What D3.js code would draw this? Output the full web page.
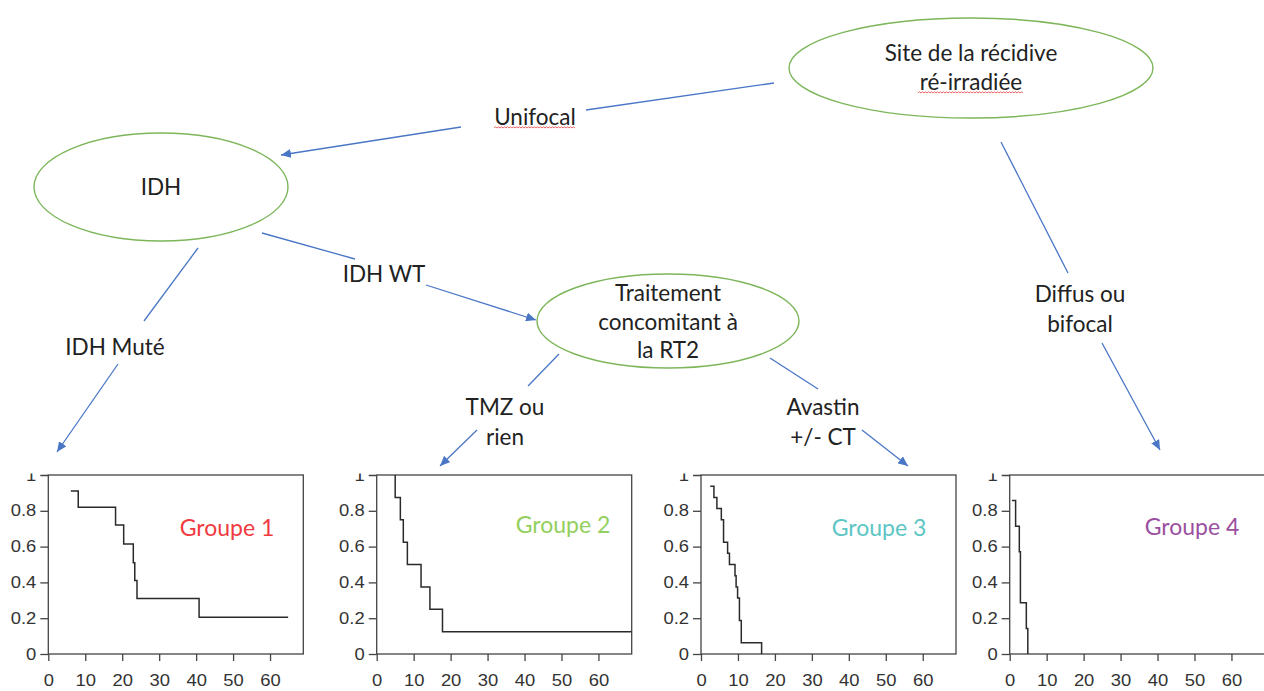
<!DOCTYPE html>
<html>
<head>
<meta charset="utf-8">
<script src="https://cdn.jsdelivr.net/npm/d3@7"></script>
<style>
  body { margin: 0; background: #fff; }
  svg { display: block; }
</style>
</head>
<body>
<script>
//Constants for the frame
const FRAME_WIDTH = 1264;
const FRAME_HEIGHT = 691;

//Data : survival curves (time in months, survival)
const GROUPS = ["Groupe 1", "Groupe 2", "Groupe 3", "Groupe 4"];
const G1_TIME = [6.1, 8.1, 18.2, 20.4, 23.0, 23.4, 24.0, 40.8, 64.9];
const G1_SURV = [0.91, 0.82, 0.72, 0.615, 0.51, 0.41, 0.31, 0.205, 0.205];
const G2_TIME = [5.0, 5.0, 6.4, 7.2, 8.3, 12.0, 14.4, 17.8, 69];
const G2_SURV = [1, 0.875, 0.75, 0.625, 0.5, 0.375, 0.25, 0.125, 0.125];
const G3_TIME = [2.5, 3.5, 4.3, 5.5, 6.1, 7.2, 7.7, 9.2, 9.5, 9.9, 10.4, 10.9, 16.4];
const G3_SURV = [0.9375, 0.875, 0.8125, 0.75, 0.625, 0.5625, 0.5, 0.4375, 0.375, 0.3125, 0.1875, 0.0625, 0];
const G4_TIME = [0.6, 1.6, 2.6, 2.9, 4.5, 4.9];
const G4_SURV = [0.857, 0.714, 0.571, 0.286, 0.143, 0];
const X_TICKS = [0, 10, 20, 30, 40, 50, 60];
const Y_TICKS = [0, 0.2, 0.4, 0.6, 0.8, 1];

const SERIES = [
  {name: GROUPS[0], time: G1_TIME, surv: G1_SURV},
  {name: GROUPS[1], time: G2_TIME, surv: G2_SURV},
  {name: GROUPS[2], time: G3_TIME, surv: G3_SURV},
  {name: GROUPS[3], time: G4_TIME, surv: G4_SURV}
];

//Styles / layout
const GROUP_COLORS = ["#f03a3f", "#92cf5c", "#5cc6c4", "#9b4f9f"];
const PLOT_LEFT = [48.3, 376.7, 701, 1009.7];
const PLOT_W = 255;
const PLOT_TOP = 475;
const PLOT_BOTTOM = 654;
const LABEL_POS = [[227, 527], [563, 524], [879, 527], [1192, 526]];
const ARROW_BLUE = "#4a76c6";
const NODE_GREEN = "#7db65a";
const TEXT_COLOR = "#222";
const FONT = "Lato, 'Open Sans', sans-serif";
const TEXT_SIZE = "22.5px";

const FRAME = d3.select("body")
  .append("svg")
    .attr("width", FRAME_WIDTH)
    .attr("height", FRAME_HEIGHT);

FRAME.append("rect")
  .attr("width", FRAME_WIDTH).attr("height", FRAME_HEIGHT)
  .attr("fill", "#fff");

const DEFS = FRAME.append("defs");
DEFS.append("marker")
    .attr("id", "arrow")
    .attr("markerUnits", "userSpaceOnUse")
    .attr("markerWidth", 11).attr("markerHeight", 9)
    .attr("refX", 10).attr("refY", 4.5)
    .attr("orient", "auto")
  .append("path")
    .attr("d", "M0,0 L10,4.5 L0,9 Z")
    .attr("fill", ARROW_BLUE);

DEFS.append("clipPath").attr("id", "chartclip")
  .append("rect")
    .attr("x", 0).attr("y", 473.5)
    .attr("width", FRAME_WIDTH).attr("height", 220);

//Kaplan-Meier panels
const CHARTS = FRAME.append("g").attr("clip-path", "url(#chartclip)");

SERIES.forEach((s, i) => {
  const X_SCALE = d3.scaleLinear()
                    .domain([0, 69])
                    .range([PLOT_LEFT[i], PLOT_LEFT[i] + PLOT_W]);
  const Y_SCALE = d3.scaleLinear()
                    .domain([0, 1])
                    .range([PLOT_BOTTOM, PLOT_TOP]);

  const g = CHARTS.append("g");

  //y axis
  const yAxis = g.append("g")
      .attr("transform", "translate(" + PLOT_LEFT[i] + ",0)")
      .call(d3.axisLeft(Y_SCALE).tickValues(Y_TICKS)
              .tickSize(8)
              .tickFormat((d) => { return (d === 0 || d === 1) ? d : d.toFixed(1); }));
  yAxis.select(".domain").remove();
  yAxis.selectAll("line").attr("stroke", "#444").attr("stroke-width", 1.3);
  yAxis.selectAll("text")
      .attr("x", 0)
      .attr("transform", "translate(-12,0) scale(1.15,1)")
      .attr("fill", "#333")
      .attr("font-size", "16px")
      .attr("font-family", "'Liberation Sans', Arial, sans-serif");

  //x axis
  const xAxis = g.append("g")
      .attr("transform", "translate(0," + PLOT_BOTTOM + ")")
      .call(d3.axisBottom(X_SCALE).tickValues(X_TICKS).tickSize(7).tickPadding(14));
  xAxis.select(".domain").remove();
  xAxis.selectAll("line").attr("stroke", "#444").attr("stroke-width", 1.3);
  xAxis.selectAll("text")
      .attr("transform", "scale(1.15,1)")
      .attr("fill", "#333")
      .attr("font-size", "16px")
      .attr("font-family", "'Liberation Sans', Arial, sans-serif");

  //box
  g.append("rect")
      .attr("x", PLOT_LEFT[i]).attr("y", PLOT_TOP)
      .attr("width", PLOT_W).attr("height", PLOT_BOTTOM - PLOT_TOP)
      .attr("fill", "none")
      .attr("stroke", "#444")
      .attr("stroke-width", 1.3);

  //survival step curve
  const pts = s.time.map((t, k) => [t, s.surv[k]]);
  const LINE = d3.line()
      .x((d) => { return X_SCALE(d[0]); })
      .y((d) => { return Y_SCALE(d[1]); })
      .curve(d3.curveStepAfter);

  const inner = g.append("g");
  inner.append("clipPath").attr("id", "plotclip" + i)
    .append("rect")
      .attr("x", PLOT_LEFT[i]).attr("y", PLOT_TOP - 1)
      .attr("width", PLOT_W).attr("height", PLOT_BOTTOM - PLOT_TOP + 2);
  inner.append("path")
      .datum(pts)
      .attr("clip-path", "url(#plotclip" + i + ")")
      .attr("d", LINE)
      .attr("fill", "none")
      .attr("stroke", "#2a2a2a")
      .attr("stroke-width", 1.5);

  //group label
  g.append("text")
      .attr("x", LABEL_POS[i][0]).attr("y", LABEL_POS[i][1])
      .attr("text-anchor", "middle")
      .attr("dominant-baseline", "central")
      .attr("font-family", FONT)
      .attr("font-size", "23px")
      .attr("fill", GROUP_COLORS[i])
      .text(s.name);
});

//Decision tree : ellipses
const NODES = [
  {cx: 971, cy: 68, rx: 182, ry: 50, lines: ["Site de la récidive", "ré-irradiée"], ly: [52, 81]},
  {cx: 161, cy: 187, rx: 127, ry: 54, lines: ["IDH"], ly: [186]},
  {cx: 668, cy: 321, rx: 131, ry: 47, lines: ["Traitement", "concomitant à", "la RT2"], ly: [292, 321, 349]}
];

NODES.forEach((n) => {
  FRAME.append("ellipse")
      .attr("cx", n.cx).attr("cy", n.cy)
      .attr("rx", n.rx).attr("ry", n.ry)
      .attr("fill", "none")
      .attr("stroke", NODE_GREEN)
      .attr("stroke-width", 1.4);
  n.lines.forEach((t, k) => {
    FRAME.append("text")
        .attr("x", n.cx).attr("y", n.ly[k])
        .attr("text-anchor", "middle")
        .attr("dominant-baseline", "central")
        .attr("font-family", FONT)
        .attr("font-size", TEXT_SIZE)
        .attr("fill", TEXT_COLOR)
        .text(t);
  });
});

//Edges : line segments, the last one of each edge ends with an arrowhead
const EDGES = [
  [[774, 83, 586, 110, false], [461, 127, 281, 155, true]],
  [[262, 233, 355, 259, false], [426, 285, 536, 320, true]],
  [[198, 248, 144, 321, false], [118, 364, 57, 452, true]],
  [[559, 354, 528, 386, false], [477, 430, 440, 466, true]],
  [[770, 358, 818, 389, false], [862, 430, 908, 466, true]],
  [[1001, 142, 1068, 273, false], [1102, 343, 1160, 450, true]]
];

EDGES.forEach((e) => {
  e.forEach((sg) => {
    FRAME.append("line")
        .attr("x1", sg[0]).attr("y1", sg[1])
        .attr("x2", sg[2]).attr("y2", sg[3])
        .attr("stroke", ARROW_BLUE)
        .attr("stroke-width", 1.3)
        .attr("marker-end", sg[4] ? "url(#arrow)" : null);
  });
});

//Edge labels
const EDGE_LABELS = [
  {x: 535, y: [116], lines: ["Unifocal"]},
  {x: 384, y: [273], lines: ["IDH WT"]},
  {x: 115, y: [346], lines: ["IDH Muté"]},
  {x: 505, y: [406, 436], lines: ["TMZ ou", "rien"]},
  {x: 823, y: [406, 436], lines: ["Avastin", "+/- CT"]},
  {x: 1080, y: [293, 323], lines: ["Diffus ou", "bifocal"]}
];

EDGE_LABELS.forEach((l) => {
  l.lines.forEach((t, k) => {
    FRAME.append("text")
        .attr("x", l.x).attr("y", l.y[k])
        .attr("text-anchor", "middle")
        .attr("dominant-baseline", "central")
        .attr("font-family", FONT)
        .attr("font-size", TEXT_SIZE)
        .attr("fill", TEXT_COLOR)
        .text(t);
  });
});

//Spell-check squiggles under two words
function squiggle(x0, x1, y) {
  const p = d3.path();
  p.moveTo(x0, y);
  let up = true;
  for (let x = x0 + 1.5; x <= x1; x += 1.5) {
    p.lineTo(x, up ? y - 1.2 : y);
    up = !up;
  }
  return p.toString();
}
[[918, 1023, 93], [494, 576, 128]].forEach((w) => {
  FRAME.append("path")
      .attr("d", squiggle(w[0], w[1], w[2]))
      .attr("fill", "none")
      .attr("stroke", "#e23b3b")
      .attr("stroke-width", 0.8);
});
</script>
</body>
</html>
